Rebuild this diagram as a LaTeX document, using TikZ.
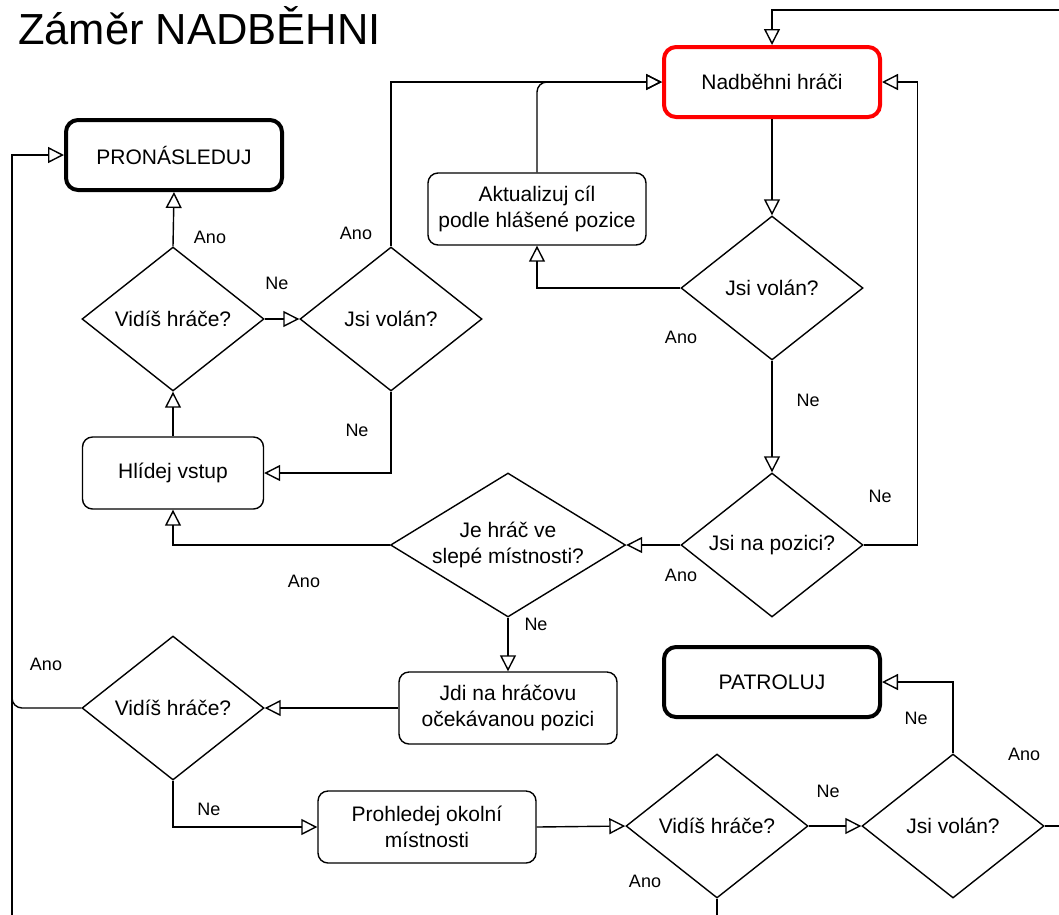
\documentclass[tikz,border=0pt]{standalone}
\usepackage{fontspec}
\setmainfont{Liberation Sans}
\usetikzlibrary{shapes.geometric,arrows.meta}
\begin{document}
\begin{tikzpicture}[x=1pt,y=-1pt,
  base/.style={font=\fontsize{21}{26}\selectfont, align=center},
  box/.style={base, draw, line width=1.4pt, rounded corners=10pt, inner sep=0pt,
    minimum width=218pt, minimum height=72pt},
  keybox/.style={box, line width=4pt, rounded corners=12pt, minimum width=216pt, minimum height=70pt},
  decision/.style={base, draw, diamond, line width=1.4pt, inner sep=-20pt,
    minimum width=182pt, minimum height=144pt},
  lbl/.style={font=\fontsize{18}{20}\selectfont, inner sep=0pt},
  wire/.style={line width=1.4pt},
  flow/.style={wire, -{Triangle[open, length=16pt, width=16pt, line width=1.4pt]}}]

\path[use as bounding box, fill=white] (0,0) rectangle (1059,914);

% title
\node[anchor=base west, font=\fontsize{43.5}{50}\selectfont, inner sep=0pt] (title) at (18,44) {Záměr NADBĚHNI};

% states and actions
\node[keybox] (pron) at (174,155) {PRONÁSLEDUJ};
\node[keybox, draw=red] (nad) at (772,82) {Nadběhni hráči};
\node[keybox] (patrol) at (772,682) {PATROLUJ};
\node[box] (akt) at (537,209) {Aktualizuj cíl\\podle hlášené pozice};
\node[box, minimum width=181pt] (guard) at (173,473) {Hlídej vstup};
\node[box] (goto) at (508,708) {Jdi na hráčovu\\očekávanou pozici};
\node[box] (search) at (427,827) {Prohledej okolní\\místnosti};

% decisions
\node[decision] (see1) at (173,319) {Vidíš hráče?};
\node[decision] (call1) at (391,319) {Jsi volán?};
\node[decision] (call2) at (772,288) {Jsi volán?};
\node[decision, minimum width=235pt] (dead) at (508,545) {Je hráč ve\\slepé místnosti?};
\node[decision] (pos) at (772,545) {Jsi na pozici?};
\node[decision] (see2) at (173,708) {Vidíš hráče?};
\node[decision] (see3) at (717,826) {Vidíš hráče?};
\node[decision] (call3) at (953,826) {Jsi volán?};

% routes that leave the sheet
\coordinate (eastrun) at (1075,10);
\coordinate (southrun) at (12,930);

% connectors
\draw[flow] (see1.north) -- (pron.south);
\draw[flow] (see1.east) -- (call1.west);
\draw[flow] (call1.north) |- (nad.west);
\draw[flow] (call1.south) |- (guard.east);
\draw[flow] (guard.north) -- (see1.south);
\draw[flow, rounded corners=10pt] (akt.north) |- (nad.west);
\draw[flow] (nad.south) -- (call2.north);
\draw[flow] (call2.west) -| (akt.south);
\draw[flow] (call2.south) -- (pos.north);
\draw[flow] (pos.east) -- ++(54,0) |- (nad.east);
\draw[flow] (pos.west) -- (dead.east);
\draw[flow] (dead.west) -| (guard.south);
\draw[flow] (dead.south) -- (goto.north);
\draw[flow] (goto.west) -- (see2.east);
\draw[wire, rounded corners=10pt] (see2.west) -- (12,708) -- (12,680);
\draw[flow] (see2.south) |- (search.west);
\draw[flow] (search.east) -- (see3.west);
\draw[flow] (see3.east) -- (call3.west);
\draw[flow] (call3.north) |- (patrol.east);
\draw[flow] (call3.east) -| (eastrun) -| (nad.north);
\draw[flow] (see3.south) |- (southrun) |- (pron.west);

% branch labels
\node[lbl] (a1) at (210,237) {Ano};
\node[lbl] (n1) at (277,283) {Ne};
\node[lbl] (a2) at (356,233) {Ano};
\node[lbl] (n2) at (357,430) {Ne};
\node[lbl] (a3) at (681,337) {Ano};
\node[lbl] (n3) at (808,400) {Ne};
\node[lbl] (n4) at (880,496) {Ne};
\node[lbl] (a4) at (681,575) {Ano};
\node[lbl] (a5) at (304,581) {Ano};
\node[lbl] (n5) at (536,624) {Ne};
\node[lbl] (a6) at (46,664) {Ano};
\node[lbl] (n6) at (209,809) {Ne};
\node[lbl] (n7) at (916,718) {Ne};
\node[lbl] (a7) at (1024,754) {Ano};
\node[lbl] (n8) at (828,791) {Ne};
\node[lbl] (a8) at (645,881) {Ano};
\end{tikzpicture}
\end{document}
